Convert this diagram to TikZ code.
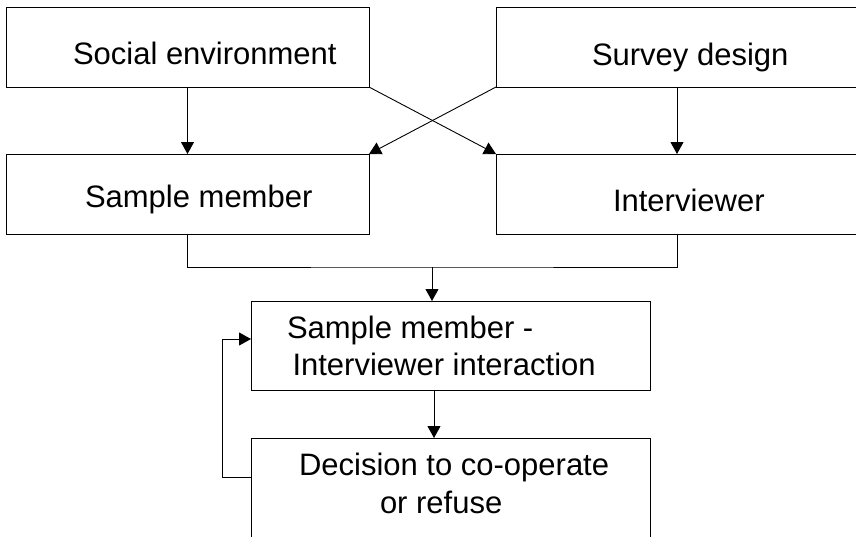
\documentclass[tikz,border=0pt]{standalone}
\usepackage{fontspec}
\setmainfont{Liberation Sans}
\usetikzlibrary{arrows.meta}
\begin{document}
\begin{tikzpicture}[x=1pt,y=-1pt,
  box/.style={draw, line width=0.9pt, inner sep=0pt, outer sep=0pt, rectangle},
  txt/.style={inner sep=0pt, outer sep=0pt, anchor=base west, font=\fontsize{31}{37}\selectfont},
  arr/.style={line width=0.9pt, -{Triangle[length=12pt,width=13pt]}},
  ln/.style={line width=0.9pt}]
\useasboundingbox (0,0) rectangle (856,536);
\clip (0,0) rectangle (856,536);
% boxes
\node[box, minimum width=363pt, minimum height=80pt] (social) at (187.5,47) {};
\node[box, minimum width=362pt, minimum height=80pt] (survey) at (677,47) {};
\node[box, minimum width=363pt, minimum height=80pt] (sample) at (187.5,194) {};
\node[box, minimum width=362pt, minimum height=80pt] (interv) at (677,194) {};
\node[box, minimum width=399pt, minimum height=89pt] (inter) at (450.5,345.5) {};
\node[box, minimum width=399pt, minimum height=122pt] (decision) at (450.5,499) {};
% texts
\node[txt] (tsocial) at (73,64.3) {Social environment};
\node[txt] (tsurvey) at (592,65) {Survey design};
\node[txt] (tsample) at (85,207) {Sample member};
\node[txt] (tinterv) at (613,211.7) {Interviewer};
\node[txt] (tinterA) at (287,338.3) {Sample member -};
\node[txt] (tinterB) at (292.5,375.7) {Interviewer interaction};
\node[txt] (tdecA) at (299,475.7) {Decision to co-operate};
\node[txt] (tdecB) at (380,513.3) {or refuse};
% connectors
\draw[arr] (social.south) -- (sample.north);
\draw[arr] (survey.south) -- (interv.north);
\draw[arr] (social.south east) -- (interv.north west);
\draw[arr] (survey.south west) -- (sample.north east);
\coordinate (jn) at (432,267);
\draw[ln] (sample.south) |- (jn) -| (interv.south);
\draw[arr] (jn) -- (jn |- inter.north);
\coordinate (dx) at (434,0);
\draw[arr] (inter.south -| dx) -- (decision.north -| dx);
\draw[arr] ([yshift=-39pt]decision.north west) -- ++(-29,0) |- ([yshift=6.5pt]inter.west);
\end{tikzpicture}
\end{document}
